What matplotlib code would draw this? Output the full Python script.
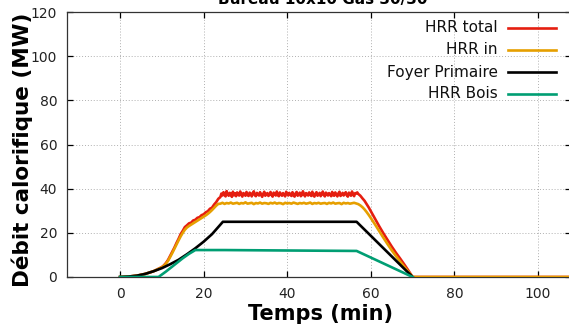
import numpy as np
import matplotlib
matplotlib.use("Agg")
import matplotlib.pyplot as plt
from matplotlib.lines import Line2D

# ---------------- data ----------------
title = "Bureau 10x10 Gas 30/30"
xlabel = "Temps (min)"
ylabel = "Débit calorifique (MW)"
labels = ["HRR total", "HRR in", "Foyer Primaire", "HRR Bois"]
xticks = [0, 20, 40, 60, 80, 100]
yticks = [0, 20, 40, 60, 80, 100, 120]

# HRR total (red)
red_rise_t = [0, 2, 4, 6, 8, 10, 10.5, 11, 11.5, 12, 12.5, 13, 13.5, 14, 14.5, 15,
              15.5, 16, 16.5, 17, 17.5, 18, 18.5, 19, 19.5, 20, 20.5, 21, 21.5, 22,
              22.5, 23, 23.5]
red_rise_v = [0, 0.2, 0.6, 1.4, 2.6, 4.5, 5.3, 6.4, 7.8, 9.6, 11.4, 13.3, 15.4, 17.3,
              19.4, 20.9, 22.6, 23.4, 24.3, 24.6, 25.6, 25.9, 26.8, 27.1, 28.0, 28.4,
              29.3, 29.8, 30.9, 31.4, 32.8, 33.9, 35.4]
red_plateau_start, red_plateau_step = 24.0, 0.25
red_plateau_v = [
    36.2, 37.8, 36.9, 38.4, 37.1, 36.5, 38.9, 37.3, 36.8, 38.1,
    37.5, 36.3, 38.6, 37.0, 37.9, 36.6, 38.3, 37.2, 36.9, 38.7,
    37.4, 36.4, 38.0, 37.6, 36.8, 38.5, 37.1, 36.7, 38.2, 37.8,
    36.5, 37.9, 38.8, 37.0, 36.6, 38.1, 37.4, 36.9, 38.4, 37.2,
    36.3, 37.7, 38.6, 36.8, 37.5, 38.0, 36.7, 37.3, 38.5, 37.1,
    36.4, 38.2, 37.6, 36.9, 38.7, 37.0, 36.6, 38.3, 37.4, 36.8,
    38.0, 37.2, 36.5, 38.6, 37.7, 36.9, 38.1, 37.3, 36.7, 38.4,
    37.0, 36.4, 37.9, 38.5, 36.8, 37.5, 38.2, 36.6, 37.1, 38.8,
    37.4, 36.5, 38.0, 37.6, 36.9, 38.3, 37.2, 36.7, 38.6, 37.0,
    36.4, 37.8, 38.4, 36.8, 37.3, 38.1, 36.6, 37.5, 38.7, 37.1,
    36.5, 38.2, 37.7, 36.9, 38.0, 37.3, 36.6, 38.5, 37.0, 36.8,
    38.3, 37.4, 36.5, 37.9, 38.6, 36.7, 37.2, 38.1, 36.9, 37.6,
    38.4, 37.0, 36.4, 38.2, 37.5, 36.8, 38.7, 37.3, 36.6, 38.0,
    37.8, 38.3, 37.6]
red_fall_t = [57.5, 58, 58.5, 59, 59.5, 60, 61, 62, 63, 64, 65, 66, 67, 68, 69, 70, 108]
red_fall_v = [36.8, 35.6, 34.5, 33.0, 31.5, 29.8, 26.3, 23.0, 19.8, 16.8, 13.8, 11.0,
              8.4, 5.7, 2.9, 0, 0]

# HRR in (orange)
orange_rise_t = red_rise_t
orange_rise_v = [0, 0.2, 0.6, 1.4, 2.6, 4.4, 5.1, 6.1, 7.4, 9.1, 10.9, 12.8, 14.7, 16.6,
                 18.4, 20.0, 21.4, 22.4, 23.1, 23.7, 24.3, 24.9, 25.5, 26.1, 26.7, 27.3,
                 27.9, 28.6, 29.4, 30.3, 31.3, 32.3, 33.1]
orange_plateau_start, orange_plateau_step = 24.0, 0.5
orange_plateau_v = [
    33.2, 33.6, 33.1, 33.5, 33.3, 33.7, 33.2, 33.4, 33.6, 33.1,
    33.5, 33.3, 33.8, 33.2, 33.4, 33.6, 33.0, 33.5, 33.3, 33.7,
    33.2, 33.5, 33.4, 33.1, 33.6, 33.3, 33.7, 33.2, 33.5, 33.4,
    33.0, 33.6, 33.3, 33.5, 33.2, 33.7, 33.4, 33.1, 33.5, 33.3,
    33.6, 33.2, 33.4, 33.7, 33.1, 33.5, 33.3, 33.6, 33.2, 33.4,
    33.5, 33.1, 33.6, 33.3, 33.7, 33.2, 33.4, 33.5, 33.0, 33.6,
    33.3, 33.5, 33.2, 33.4, 33.6, 33.3]
orange_fall_t = [57, 57.5, 58, 58.5, 59, 59.5, 60, 61, 62, 63, 64, 65, 66, 67, 68, 69, 70, 108]
orange_fall_v = [33.0, 32.4, 31.6, 30.6, 29.4, 28.1, 26.7, 23.8, 20.8, 17.8, 14.9, 12.1,
                 9.5, 7.0, 4.6, 2.3, 0, 0]

# Foyer Primaire (black)
black_t = [0, 2, 4, 6, 8, 10, 12, 14, 16, 18, 20, 22, 24.6, 56.6, 70]
black_v = [0, 0.2, 0.6, 1.4, 2.6, 4.0, 5.8, 7.8, 10.3, 13.0, 16.0, 19.4, 25.0, 25.0, 0]

# HRR Bois (green)
green_t = [0, 9.2, 11, 13, 15, 16.5, 18, 25, 40, 56.6, 70]
green_v = [0, 0, 2.5, 5.5, 8.5, 10.5, 12.2, 12.2, 12.0, 11.8, 0]

colors = ["#e51e10", "#e69f00", "#000000", "#009e73"]

# ---------------- assemble series ----------------
red_plateau_t = red_plateau_start + red_plateau_step * np.arange(len(red_plateau_v))
red_t = np.concatenate([red_rise_t, red_plateau_t, red_fall_t])
red_v = np.concatenate([red_rise_v, red_plateau_v, red_fall_v])
orange_plateau_t = orange_plateau_start + orange_plateau_step * np.arange(len(orange_plateau_v))
orange_t = np.concatenate([orange_rise_t, orange_plateau_t, orange_fall_t])
orange_v = np.concatenate([orange_rise_v, orange_plateau_v, orange_fall_v])

# ---------------- figure ----------------
W, H = 569, 326
fig = plt.figure(figsize=(W / 100, H / 100), dpi=100)
L, R, T, B = 67, 571, 12, 277
ax = fig.add_axes([L / W, 1 - B / H, (R - L) / W, (B - T) / H])

lw = 1.9
ax.plot(red_t, red_v, color=colors[0], lw=lw, zorder=2)
ax.plot(orange_t, orange_v, color=colors[1], lw=lw, zorder=3)
ax.plot(black_t, black_v, color=colors[2], lw=lw, zorder=4)
ax.plot(green_t, green_v, color=colors[3], lw=lw, zorder=5)

ax.set_xlim(-12.7, 107.9)
ax.set_ylim(0, 120)
ax.set_xticks(xticks)
ax.set_yticks(yticks)
ax.tick_params(direction="in", length=4, width=0.9, top=True, right=True,
               labelsize=10, labelcolor="#222222", pad=7)
ax.grid(True, linestyle=(0, (1, 2)), color="#b0b0b0", lw=0.7)
for s in ax.spines.values():
    s.set_linewidth(0.9)
    s.set_color("#333333")

fig.text(22 / W, 1 - 150 / H, ylabel, rotation=90, ha="center", va="center",
         fontsize=15.5, fontweight="bold")
fig.text(320 / W, 1 - 314 / H, xlabel, ha="center", va="center",
         fontsize=15, fontweight="bold")
fig.text(323 / W, 1 - 4 / H, title, ha="center", va="baseline",
         fontsize=11, fontweight="bold")

# legend (manual, text right-aligned, handle on the right)
rows_y = [28, 50, 72, 94]
for lab, col, yy in zip(labels, colors, rows_y):
    fig.text(498 / W, 1 - yy / H, lab, ha="right", va="center", fontsize=11,
             color="#111111")
    fig.add_artist(Line2D([508 / W, 556 / W], [1 - yy / H, 1 - yy / H],
                          color=col, lw=lw, transform=fig.transFigure))

fig.savefig("out.png", dpi=100)
